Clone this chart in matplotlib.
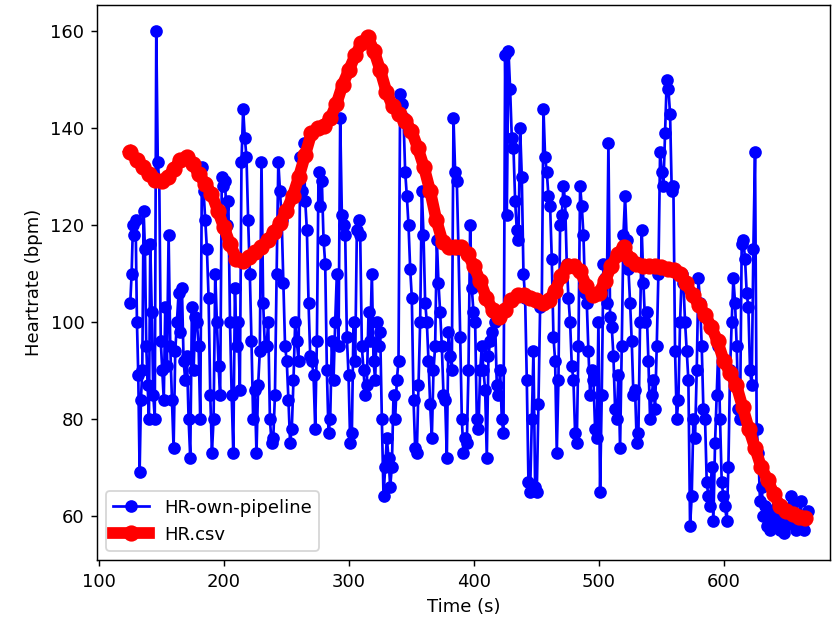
import numpy as np
import matplotlib
matplotlib.use("Agg")
from matplotlib import pyplot as plt

# heart rate from own pipeline, one chunk per time span (bounds in seconds)
chunk_bounds = [125, 141, 153, 173, 193, 214, 230, 261, 293, 325, 341,
                377, 421, 453, 501, 549, 597, 629, 667]
hr_own_chunks = [
    [104, 110, 120, 118, 121, 100, 89, 69, 84, 90, 123, 115, 95, 87, 80],
    [116, 102, 85, 80, 160, 133, 129, 96, 90, 84],
    [103, 91, 118, 95, 84, 74, 94, 100, 106, 98, 107, 92, 88, 93, 80],
    [72, 103, 90, 101, 100, 95, 80, 132, 127, 121, 115, 105, 85, 73, 80],
    [110, 100, 91, 85, 130, 128, 129, 120, 125, 100, 85, 73, 107, 95, 100, 86],
    [133, 144, 138, 134, 121, 110, 96, 80, 86, 73, 87, 94],
    [133, 104, 95, 95, 100, 80, 75, 76, 85, 110, 133, 127, 121, 108, 95, 92,
     84, 75, 78, 88, 100, 96, 92],
    [134, 127, 137, 125, 119, 104, 93, 92, 89, 78, 96, 131, 124, 129, 117, 112,
     90, 77, 80, 96, 88, 100, 110, 95],
    [142, 122, 120, 118, 97, 89, 75, 77, 100, 92, 119, 121, 118, 95, 90, 85,
     87, 102, 96, 110, 92, 88, 100, 95],
    [98, 80, 64, 70, 76, 72, 66, 70, 85, 80, 88, 92],
    [147, 145, 142, 131, 126, 120, 111, 105, 84, 74, 73, 87, 100, 127, 118, 104,
     100, 92, 83, 76, 90, 95, 117, 108, 102, 95, 85],
    [84, 72, 98, 93, 90, 142, 131, 129, 115, 97, 80, 73, 76, 75, 90, 120, 107,
     102, 100, 80, 78, 90, 95, 90, 86, 72, 93, 96, 98, 102, 100, 87, 85],
    [90, 80, 77, 155, 122, 156, 148, 138, 136, 125, 119, 117, 140, 130, 110, 105,
     88, 67, 65, 80, 94, 66, 65, 83],
    [103, 104, 144, 134, 131, 126, 124, 113, 97, 92, 73, 88, 120, 122, 128, 125,
     112, 105, 100, 91, 88, 77, 75, 95, 128, 124, 118, 106, 104, 94, 85, 90,
     88, 78, 76, 100],
    [65, 85, 112, 109, 104, 137, 101, 99, 93, 82, 80, 89, 74, 95, 118, 126,
     117, 111, 104, 96, 85, 86, 75, 77, 100, 119, 108, 100, 102, 92, 80, 85,
     88, 82, 95, 110],
    [135, 131, 128, 139, 150, 148, 143, 127, 128, 94, 80, 84, 100, 110, 108, 100,
     94, 88, 58, 64, 80, 76, 90, 109, 104, 95, 82, 80, 67, 64, 62, 70,
     59, 75, 85, 95],
    [80, 67, 64, 62, 59, 70, 90, 100, 109, 104, 95, 82, 80, 116, 117, 113,
     106, 103, 90, 87, 115, 135, 78, 73],
    [63, 66, 60, 62, 58, 60, 57, 61, 59, 58, 62, 60, 57, 59, 56.5, 58,
     61, 60, 64, 62, 59, 57, 58, 60, 63, 58, 57, 60, 61],
]

# reference HR.csv, every 5 s from 125 s
hr_csv = [
    135, 133.5, 132, 130.5, 129.3, 129, 130, 131.5, 133.5, 134,
    132.5, 130.5, 128.5, 126.5, 123, 119.5, 116, 113, 112.5, 113.5,
    114.5, 115.5, 117, 118.5, 120.5, 123, 126, 130, 134.5, 139,
    140, 140.5, 142, 145, 149, 152, 155, 157.5, 158.8, 156,
    152, 147.5, 144.5, 143, 141.5, 139.5, 136, 132, 127, 121,
    116.5, 115.5, 115.5, 115.5, 114, 111.5, 108.5, 105, 102.5, 101,
    102.5, 104.5, 105.5, 105.5, 105, 104.5, 104, 104.5, 106.5, 109.5,
    111.5, 111.5, 110.5, 107.5, 105.5, 106, 108.5, 111.5, 114, 115.5,
    113, 112, 111.5, 111.5, 111.5, 111.3, 111, 110.8, 110, 108,
    105.5, 103.5, 101.5, 99, 96, 92, 89.5, 87, 82.5, 78,
    74, 70, 67.5, 64.5, 62, 61, 60.3, 59.8, 59.5,
]

t_own = []
hr_own = []
for i, chunk in enumerate(hr_own_chunks):
    last = i == len(hr_own_chunks) - 1
    t_own.extend(np.linspace(chunk_bounds[i], chunk_bounds[i + 1], len(chunk), endpoint=last))
    hr_own.extend(chunk)
t_csv = np.linspace(125, 665, len(hr_csv))

fig = plt.figure(figsize=(833 / 130, 632 / 130), dpi=130)
ax = fig.add_subplot(111)
fig.subplots_adjust(left=0.1165, right=0.9964, bottom=0.114, top=0.992)

ax.plot(t_own, hr_own, 'o-', color='blue', label='HR-own-pipeline')
ax.plot(t_csv, hr_csv, 'o-', color='red', lw=6.5, ms=8, label='HR.csv')

ax.set_xlim(98.4, 685)
ax.set_ylim(50.9, 165.4)
ax.set_xlabel('Time (s)')
ax.set_ylabel('Heartrate (bpm)')
ax.legend(loc='lower left')

fig.savefig('out.png', dpi=130)
